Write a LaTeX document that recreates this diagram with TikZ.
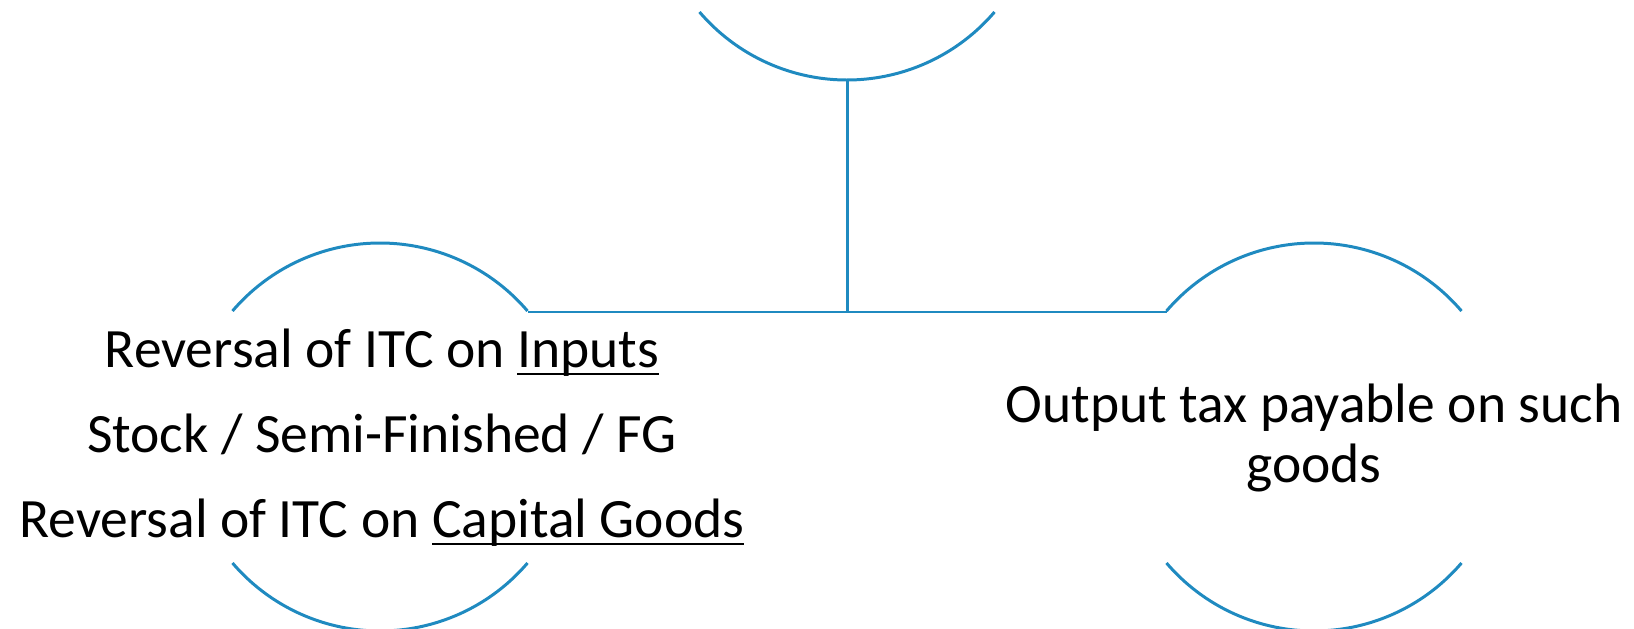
\documentclass[tikz,border=0pt]{standalone}
\usepackage{fontspec}
\setmainfont{Carlito}
\definecolor{ringblue}{RGB}{31,138,192}
\newcommand\undl[1]{\setbox0\hbox{#1}\rlap{\rule[-4.8pt]{\wd0}{1.6pt}}\box0}

\begin{document}
\begin{tikzpicture}[x=0.02cm,y=-0.02cm,
  ring/.style={draw=ringblue,line width=1.7pt},
  txt/.style={anchor=base,inner sep=0pt,font=\fontsize{31.6}{34}\selectfont}]
\useasboundingbox (0,0) rectangle (1634,629);
\coordinate (topc) at (847,-114);
\coordinate (leftc) at (380,437);
\coordinate (rightc) at (1314,437);
% open circles
\draw[ring] (topc) ++(40.5:194) arc[start angle=40.5,end angle=139.5,radius=194];
\foreach \c in {leftc,rightc}{
    \draw[ring] (\c) ++(-40.5:194) arc[start angle=-40.5,end angle=-139.5,radius=194];
    \draw[ring] (\c) ++(40.5:194) arc[start angle=40.5,end angle=139.5,radius=194];
}
% connectors
\coordinate (topb) at (847,80);
\coordinate (hub) at (847,312);
\coordinate (lend) at (528,312);
\coordinate (rend) at (1167,312);
\draw[ring] (topb)--(hub);
\draw[ring] (lend)--(rend);
% texts
\node[txt] (inputs) at (382,367) {Reversal of ITC on \undl{Inputs}};
\node[txt] (stock) at (382,452) {Stock / Semi-Finished / FG};
\node[txt] (capital) at (382,537) {Reversal of ITC on \undl{Capital Goods}};
\node[txt,align=center] (output) at (1314,482) {Output tax payable on such\\goods};
\end{tikzpicture}
\end{document}
